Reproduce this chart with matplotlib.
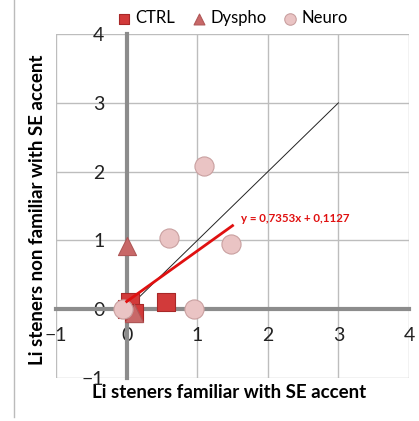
import matplotlib
matplotlib.use("Agg")
import matplotlib.pyplot as plt
from matplotlib.lines import Line2D
import numpy as np

plt.rcParams['font.family'] = ['Lato', 'DejaVu Sans']

# data
ctrl_x = [0.0, 0.05, 0.1, 0.55]
ctrl_y = [0.0, 0.1, -0.05, 0.1]
dyspho_x = [0.0, 0.1]
dyspho_y = [0.92, -0.05]
neuro_x = [1.1, 0.6, 1.48, 0.95, -0.05]
neuro_y = [2.08, 1.04, 0.95, 0.0, 0.0]

diag_x = [0, 3]
diag_y = [0, 3]

slope = 0.7353
intercept = 0.1127
fit_x = np.array([0.0, 1.5])
fit_label = "y = 0,7353x + 0,1127"

ticks = [-1, 0, 1, 2, 3, 4]

fig = plt.figure(figsize=(4.19, 4.21), dpi=100)
ax = fig.add_axes([0.134, 0.102, 0.842, 0.817])
ax.set_xlim(-1, 4)
ax.set_ylim(-1, 4)
ax.set_xticks(ticks)
ax.set_yticks(ticks)
ax.grid(True, color='#bdbdbd', lw=1)
ax.set_axisbelow(True)

for s in ['top', 'right']:
    ax.spines[s].set_visible(False)
ax.spines['left'].set_position(('data', 0))
ax.spines['bottom'].set_position(('data', 0))
for s in ['left', 'bottom']:
    ax.spines[s].set_color('#8c8c8c')
    ax.spines[s].set_linewidth(3)
    ax.spines[s].set_zorder(1.5)
ax.tick_params(length=0, labelsize=14, colors='#222222')
ax.tick_params(axis='x', pad=13)
ax.tick_params(axis='y', pad=16)

ax.plot(diag_x, diag_y, color='#222222', lw=0.7, zorder=3)

ax.scatter(ctrl_x, ctrl_y, marker='s', s=160, c='#d23a3a', edgecolors='#a82828',
           linewidths=0.8, zorder=4, label='CTRL')
ax.scatter(dyspho_x, dyspho_y, marker='^', s=170, c='#c86868', edgecolors='#b05858',
           linewidths=0.8, zorder=4, label='Dyspho')
ax.scatter(neuro_x, neuro_y, marker='o', s=190, c='#eac4c4', edgecolors='#c9a0a0',
           linewidths=0.8, zorder=5, label='Neuro')

ax.plot(fit_x, slope * fit_x + intercept, color='#e01010', lw=2, zorder=6)
ax.text(1.62, 1.24, fit_label, color='#e01010', fontsize=8.3, fontweight='bold',
        ha='left', va='bottom')

ax.set_xlabel('Li steners familiar with SE accent', fontsize=13.5, fontweight='bold')
ax.set_ylabel('Li steners non familiar with SE accent', fontsize=13.5, fontweight='bold')
ax.xaxis.set_label_coords(0.49, -0.018)
ax.yaxis.set_label_coords(-0.03, 0.49)

fig.legend(loc='center', bbox_to_anchor=(0.555, 0.957), ncol=3, frameon=False,
           fontsize=12, handletextpad=0.3, columnspacing=1.0, markerscale=0.6,
           handlelength=0.8)

fig.add_artist(Line2D([14 / 419, 14 / 419], [0.01, 1.0], color='#bbbbbb', lw=1))

fig.savefig('out.png', dpi=100)
